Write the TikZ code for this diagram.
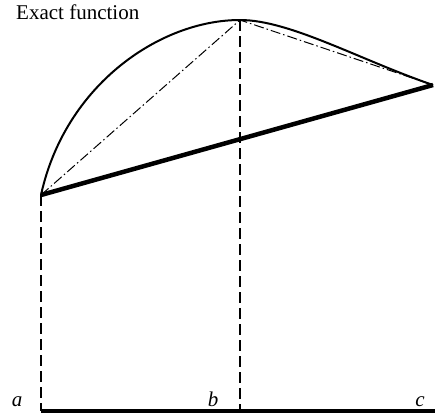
\documentclass[tikz,border=0pt]{standalone}
\usepackage{fontspec}
\setmainfont{Liberation Serif}
\begin{document}
\begin{tikzpicture}[x=1pt,y=-1pt,
  curve/.style={line width=2pt},
  approx/.style={line width=4.5pt},
  guide/.style={line width=1.3pt,dash pattern=on 11pt off 5pt},
  chord/.style={line width=1pt,dash pattern=on 10pt off 3pt on 1.5pt off 3pt},
  lbl/.style={font=\fontsize{21}{24}\selectfont\itshape,inner sep=0pt}]
\useasboundingbox (0,0) rectangle (435,418);
\coordinate (A) at (41,195);
\coordinate (B) at (240,20);
\coordinate (C) at (433,85);
\coordinate (Af) at (41,411);
\coordinate (Bf) at (240,411);
\coordinate (Cf) at (435,411);
\node[font=\fontsize{21}{24}\selectfont,inner sep=0pt,anchor=base west] (title) at (16,19) {Exact function};
\draw[guide] (A) -- (Af);
\draw[guide] (B) -- (Bf);
\draw[chord] (A) -- (B) -- (C);
\draw[curve] (A) .. controls (65,85) and (160,20) .. (B)
             .. controls (290,20) and (360,60) .. (C);
\draw[approx] (A) -- (C);
\draw[approx] (Af) -- (Cf);
\node[lbl,anchor=base] (la) at (17,406) {a};
\node[lbl,anchor=base] (lb) at (213,406) {b};
\node[lbl,anchor=base] (lc) at (420,406) {c};
\end{tikzpicture}
\end{document}
